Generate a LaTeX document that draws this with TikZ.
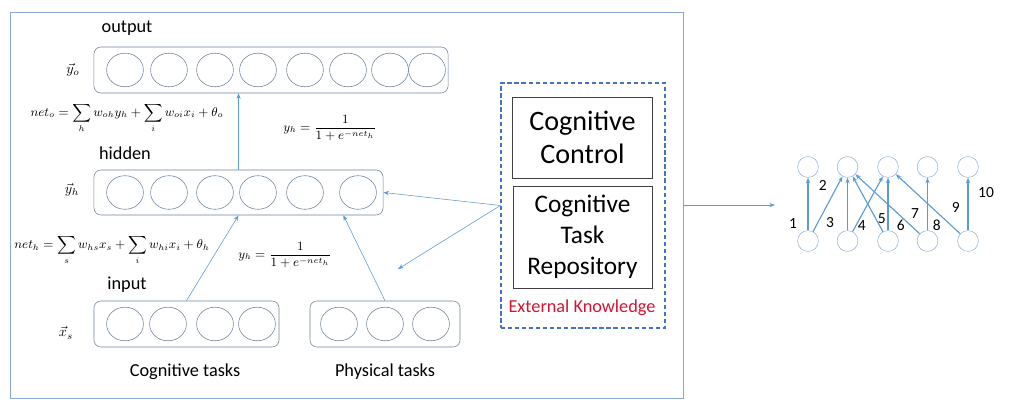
\documentclass[tikz,border=0pt]{standalone}
\usepackage{fontspec}
\setmainfont{Carlito}
\usepackage{amsmath}
\usetikzlibrary{arrows.meta, shapes.geometric, positioning}
\definecolor{linkblue}{RGB}{91,155,213}
\definecolor{boxgray}{RGB}{110,130,155}
\definecolor{frameblue}{RGB}{140,168,215}
\definecolor{dashblue}{RGB}{68,114,196}
\definecolor{graphblue}{RGB}{150,180,215}
\definecolor{knowred}{RGB}{210,20,50}

\begin{document}
\begin{tikzpicture}[x=0.025cm, y=-0.025cm,
  layer/.style={draw=boxgray, rounded corners=5pt, minimum height=1.15cm, inner sep=0pt},
  unit/.style={draw=boxgray, ellipse, minimum width=0.92cm, minimum height=0.84cm, inner sep=0pt},
  lbl/.style={font=\fontsize{13}{15}\selectfont},
  mbox/.style={draw=black!75, minimum width=3.5cm, align=center, inner sep=2pt},
  link/.style={draw=linkblue, -{Stealth[length=4pt,width=3pt]}},
  gnode/.style={draw=graphblue, circle, minimum size=0.52cm, inner sep=0pt},
  glink/.style={draw=linkblue, line width=0.8pt, -{Stealth[length=4pt,width=3pt]}},
  num/.style={font=\fontsize{11}{13}\selectfont}
]
  \useasboundingbox (0,0) rectangle (1012,411);
  \node[draw=frameblue, minimum width=16.825cm, minimum height=9.65cm, inner sep=0pt] (frame) at (346.5,205) {};

  % layers
  \node[layer, minimum width=8.85cm] (out) at (271,70) {};
  \node[layer, minimum width=7.225cm, minimum height=1.125cm] (hid) at (238.5,192.5) {};
  \node[layer, minimum width=4.625cm] (cog) at (186.5,324) {};
  \node[layer, minimum width=3.75cm] (phy) at (385,324) {};
  \foreach \x [count=\i] in {125,169,215,258,305,348,390,427}
    \node[unit] (o\i) at (\x,70) {};
  \foreach \x [count=\i] in {125,169,215,258,305,358}
    \node[unit] (h\i) at (\x,192.5) {};
  \foreach \x [count=\i] in {125,168,215,257}
    \node[unit] (c\i) at (\x,324) {};
  \foreach \x [count=\i] in {339,385,431}
    \node[unit] (p\i) at (\x,324) {};

  \node[lbl] (outlbl) at (127,28) {output};
  \node[lbl] (hidlbl) at (125,153) {hidden};
  \node[lbl] (inlbl) at (127,285) {input};
  \node (yo) at (73,70) {$\vec{y}_o$};
  \node (yh) at (72,190) {$\vec{y}_h$};
  \node (xs) at (66,333) {$\vec{x}_s$};
  \node[lbl] (cogtxt) at (185,372) {Cognitive tasks};
  \node[lbl] (phytxt) at (385,372) {Physical tasks};

  \node[font=\small] (neto) at (127,118) {$net_o=\displaystyle\sum_h w_{oh}y_h+\sum_i w_{oi}x_i+\theta_o$};
  \node[font=\small] (sigo) at (330,128) {$y_h=\dfrac{1}{1+e^{-net_h}}$};
  \node[font=\small] (neth) at (112,250) {$net_h=\displaystyle\sum_s w_{hs}x_s+\sum_i w_{hi}x_i+\theta_h$};
  \node[font=\small] (sigh) at (285,255) {$y_h=\dfrac{1}{1+e^{-net_h}}$};

  % external knowledge
  \node[draw=dashblue, dash pattern=on 3pt off 2pt, line width=0.8pt, minimum width=4.1cm, minimum height=6.125cm, inner sep=0pt] (ext) at (583,205.5) {};
  \node[mbox, minimum height=2.025cm, font=\fontsize{20}{24}\selectfont] (ctrl) at (582.5,137.5) {Cognitive\\Control};
  \node[mbox, minimum width=3.475cm, minimum height=2.55cm, font=\fontsize{18}{22}\selectfont] (repo) at (582.5,237) {Cognitive\\Task\\Repository};
  \node[lbl, text=knowred] (extlbl) at (582,308) {External Knowledge};

  \coordinate (free) at (398,269);
  \coordinate (graphin) at (775,205);
  \draw[link] (hid.north) -- (hid.north |- out.south);
  \draw[link] (cog.north) -- (hid.south);
  \draw[link] (phy.north) -- ([xshift=-1cm]hid.south east);
  \draw[link] (ext.west) -- (hid.east);
  \draw[link] (ext.west) -- (free);
  \draw[link] (frame.east) -- (graphin);

  % task graph
  \foreach \x [count=\i] in {808,847.5,888,927.5,968} {
    \node[gnode] (t\i) at (\x,167) {};
    \node[gnode] (b\i) at (\x,241) {};
  }
  \foreach \s/\t in {1/1, 1/2, 2/2, 2/3, 3/2, 3/3, 4/2, 4/4, 5/3, 5/5}
    \draw[glink] (b\s) -- (t\t);
  \foreach \n/\x/\y in {1/793/224, 2/822.7/185.7, 3/830/223, 4/861.7/225.7, 5/881.7/219,
      6/900.7/225, 7/915/213.3, 8/936.7/225, 9/955.7/207.7, 10/986/192.7}
    \node[num] (n\n) at (\x,\y) {\n};
\end{tikzpicture}
\end{document}
